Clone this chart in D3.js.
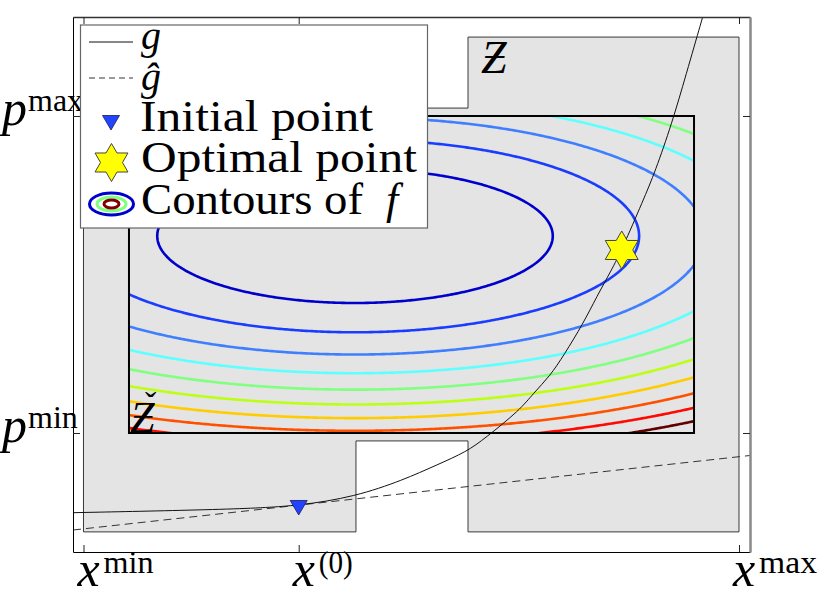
<!DOCTYPE html>
<html>
<head>
<meta charset="utf-8">
<script src="https://cdn.jsdelivr.net/npm/d3@7"></script>
<style>
  body { margin: 0; background: #fff; }
</style>
</head>
<body>
<svg id="chart" width="830" height="597"></svg>
<script>
// ---- data (x and p in normalised units: min = 0, max = 1) ----
const xTicks      = [0, 0.3283, 1];
const xTickLabels = [["x", "min"], ["x", "(0)"], ["x", "max"]];
const pTicks      = [0, 1];
const pTickLabels = [["p", "min"], ["p", "max"]];

// outer feasible set Z
const zoneZ = [[0, 1.025], [0.5866, 1.025], [0.5866, 1.249], [1, 1.249], [1, -0.312],
               [0.5866, -0.312], [0.5866, -0.025], [0.4157, -0.025], [0.4157, -0.312], [0, -0.312]];
// inner box Ž
const boxX = [0.0694, 0.9314];
const boxP = [0, 1];

// f : elliptic bowl
const fCenter = [0.4142, 0.6215];
const fScale  = [0.3112, 0.2181];
const fMin    = 0.06;
const contourLevels = [1, 2, 3, 4, 5, 6, 7, 8, 9, 10];

// constraint g and its linearisation ĝ
const gX = [-0.016, 0.2337, 0.3283, 0.4142, 0.4879, 0.5388, 0.5846, 0.6125, 0.6659, 0.6862,
            0.7117, 0.7330, 0.7625, 0.7829, 0.8056, 0.8211, 0.8540, 0.8719, 0.8978, 0.9191, 0.9446];
const gP = [-0.2514, -0.2407, -0.2300, -0.2009, -0.1483, -0.1009, -0.0590, -0.0167, 0.0726, 0.1252,
            0.1798, 0.2461, 0.3461, 0.4300, 0.5142, 0.5773, 0.7350, 0.8233, 0.9779, 1.1293, 1.3123];
const gHatX = [-0.016, 1.0168];
const gHatP = [-0.306, -0.071];

const initialPoint = [0.3283, -0.235];
const optimalPoint = [0.8211, 0.5773];

// ---- styles ----
const contourColors = ["#0000cc", "#1a3cff", "#3f7fff", "#5effff", "#80ff80",
                       "#bcff14", "#ffcc00", "#ff5000", "#ff0a00", "#600000"];
const zoneFill = "#e4e4e4";
const fontName = "Liberation Serif";

const svg = d3.select("#chart");
const x = d3.scaleLinear().domain([-0.016, 1.0168]).range([73, 750]);
const y = d3.scaleLinear().domain([-0.3754, 1.3123]).range([552, 17]);

const fval = (xv, pv) => fMin + Math.pow((xv - fCenter[0]) / fScale[0], 2) + Math.pow((pv - fCenter[1]) / fScale[1], 2);

const addText = (parent, px, py, size, str, italic) => {
  const t = parent.append("text").attr("x", px).attr("y", py)
    .attr("font-family", fontName).attr("font-size", size).attr("fill", "#000")
    .style("font-family", "'Liberation Serif', 'Times New Roman', serif")
    .text(str);
  if (italic) t.attr("font-style", "italic").style("font-style", "italic");
  return t;
};

const defs = svg.append("defs");
defs.append("clipPath").attr("id", "clip-axes")
  .append("rect").attr("x", 73).attr("y", 17).attr("width", 677).attr("height", 535);
defs.append("clipPath").attr("id", "clip-box")
  .append("rect")
  .attr("x", x(boxX[0])).attr("y", y(boxP[1]))
  .attr("width", x(boxX[1]) - x(boxX[0])).attr("height", y(boxP[0]) - y(boxP[1]));

// zone Z
svg.append("path")
  .datum(zoneZ)
  .attr("d", d3.line().x(d => x(d[0])).y(d => y(d[1])).curve(d3.curveLinearClosed))
  .attr("fill", zoneFill)
  .attr("stroke", "#3a3a3a")
  .attr("stroke-width", 1);

// contours of f on a pixel grid a bit larger than the box
const step = 2, pad = 8;
const gx0 = x(boxX[0]) - pad, gy0 = y(boxP[1]) - pad;
const nx = Math.ceil((x(boxX[1]) - x(boxX[0]) + 2 * pad) / step);
const ny = Math.ceil((y(boxP[0]) - y(boxP[1]) + 2 * pad) / step);
const values = new Array(nx * ny);
for (let j = 0; j < ny; j++) {
  for (let i = 0; i < nx; i++) {
    values[j * nx + i] = fval(x.invert(gx0 + (i + 0.5) * step), y.invert(gy0 + (j + 0.5) * step));
  }
}
const contours = d3.contours().size([nx, ny]).thresholds(contourLevels)(values);
const cpath = d3.geoPath(d3.geoIdentity().scale(step).translate([gx0, gy0]));

svg.append("g").attr("clip-path", "url(#clip-box)")
  .selectAll("path")
  .data(contours)
  .enter().append("path")
  .attr("d", cpath)
  .attr("fill", "none")
  .attr("stroke", (d, i) => contourColors[i])
  .attr("stroke-width", 2.6);

// box Ž
svg.append("rect")
  .attr("x", x(boxX[0])).attr("y", y(boxP[1]))
  .attr("width", x(boxX[1]) - x(boxX[0])).attr("height", y(boxP[0]) - y(boxP[1]))
  .attr("fill", "none").attr("stroke", "#000").attr("stroke-width", 2);

// g and ĝ
const curves = svg.append("g").attr("clip-path", "url(#clip-axes)");
curves.append("path")
  .datum(gHatX.map((v, i) => [v, gHatP[i]]))
  .attr("d", d3.line().x(d => x(d[0])).y(d => y(d[1])))
  .attr("fill", "none").attr("stroke", "#333").attr("stroke-width", 1)
  .attr("stroke-dasharray", "8,5");
curves.append("path")
  .datum(gX.map((v, i) => [v, gP[i]]))
  .attr("d", d3.line().x(d => x(d[0])).y(d => y(d[1])).curve(d3.curveBasis))
  .attr("fill", "none").attr("stroke", "#111").attr("stroke-width", 1);

// markers
const triangle = d3.line()([[-8.5, -7], [8.5, -7], [0, 7.5]]) + "Z";
const star = d3.lineRadial().curve(d3.curveLinearClosed)(
  d3.range(12).map(i => [i * Math.PI / 6, i % 2 ? 11 : 19]));

svg.append("path").attr("d", triangle)
  .attr("transform", `translate(${x(initialPoint[0])},${y(initialPoint[1])})`)
  .attr("fill", "#2244ff").attr("stroke", "#1a1a55").attr("stroke-width", 0.8);
svg.append("path").attr("d", star)
  .attr("transform", `translate(${x(optimalPoint[0])},${y(optimalPoint[1])})`)
  .attr("fill", "#ffff00").attr("stroke", "#444").attr("stroke-width", 1);

// axes box with inward ticks
const axB = svg.append("g").attr("transform", "translate(0,552)")
  .call(d3.axisBottom(x).tickValues(xTicks).tickSizeInner(-7).tickSizeOuter(0).tickFormat(""));
const axT = svg.append("g").attr("transform", "translate(0,17)")
  .call(d3.axisTop(x).tickValues(xTicks).tickSizeInner(-7).tickSizeOuter(0).tickFormat(""));
const axL = svg.append("g").attr("transform", "translate(73,0)")
  .call(d3.axisLeft(y).tickValues(pTicks).tickSizeInner(-7).tickSizeOuter(0).tickFormat(""));
const axR = svg.append("g").attr("transform", "translate(750,0)")
  .call(d3.axisRight(y).tickValues(pTicks).tickSizeInner(-7).tickSizeOuter(0).tickFormat(""));
[axB, axT, axL, axR].forEach(a => a.selectAll("line").attr("stroke", "#222"));
axB.select(".domain").attr("stroke", "#000");
axL.select(".domain").attr("stroke", "#000");
axT.select(".domain").attr("stroke", "#333").attr("stroke-width", 1.5);
axR.select(".domain").attr("stroke", "#888").attr("stroke-width", 2.5);

// set labels (placed in plain svg, not inside an axis group)
addText(svg, 481, 73, 46, "Ƶ", true);
addText(svg, 130, 432, 44, "Ƶ", true);
addText(svg, 145, 416, 34, "ˇ", false);

// tick labels
const supWidthX = [50, 34, 58];
xTicks.forEach((t, i) => {
  addText(svg, x(t) - 6, 586, 50, xTickLabels[i][0], true);
  addText(svg, x(t) + 20, 573, 32, xTickLabels[i][1], false)
    .attr("textLength", supWidthX[i]).attr("lengthAdjust", "spacingAndGlyphs");
});
pTicks.forEach((t, i) => {
  addText(svg, 2, y(t) + 9, 50, pTickLabels[i][0], true);
  addText(svg, 28, y(t) - 4.5, 32, pTickLabels[i][1], false);
});

// legend
const lg = svg.append("g");
lg.append("rect").attr("x", 80.5).attr("y", 25).attr("width", 347).attr("height", 203)
  .attr("fill", "#fff").attr("stroke", "#666").attr("stroke-width", 1.2);
lg.append("line").attr("x1", 89).attr("x2", 133).attr("y1", 42).attr("y2", 42)
  .attr("stroke", "#111").attr("stroke-width", 1);
lg.append("line").attr("x1", 89).attr("x2", 133).attr("y1", 78).attr("y2", 78)
  .attr("stroke", "#333").attr("stroke-width", 1).attr("stroke-dasharray", "6,4");
lg.append("path").attr("d", triangle).attr("transform", "translate(111,122.5)")
  .attr("fill", "#2244ff").attr("stroke", "#1a1a55").attr("stroke-width", 0.8);
lg.append("path").attr("d", star).attr("transform", "translate(111.5,162.5)")
  .attr("fill", "#ffff00").attr("stroke", "#444").attr("stroke-width", 1);
[[22, 11, contourColors[0]], [14.5, 7, "#80ff80"], [7.5, 4, "#800000"]].forEach(e => {
  lg.append("ellipse").attr("cx", 111.5).attr("cy", 204).attr("rx", e[0]).attr("ry", e[1])
    .attr("fill", "none").attr("stroke", e[2]).attr("stroke-width", 3);
});
addText(lg, 141, 49, 40, "g", true);
addText(lg, 141, 90, 40, "ĝ", true);
addText(lg, 140, 131, 44, "Initial point", false)
  .attr("textLength", 233).attr("lengthAdjust", "spacingAndGlyphs");
addText(lg, 141, 172, 44, "Optimal point", false)
  .attr("textLength", 276).attr("lengthAdjust", "spacingAndGlyphs");
addText(lg, 141, 214, 44, "Contours of", false)
  .attr("textLength", 222).attr("lengthAdjust", "spacingAndGlyphs");
addText(lg, 386, 214, 44, "f", true);
</script>
</body>
</html>
